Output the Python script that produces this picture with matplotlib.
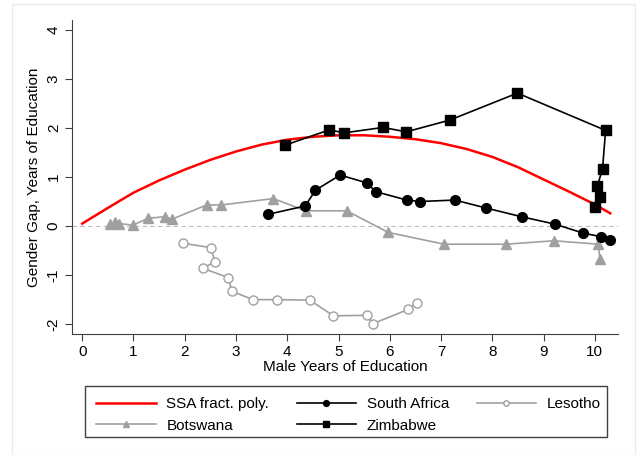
import matplotlib
matplotlib.use("Agg")
import matplotlib.pyplot as plt
from matplotlib.patches import Rectangle

plt.rcParams['font.family'] = ['Liberation Sans', 'DejaVu Sans']
plt.rcParams['axes.unicode_minus'] = False

# SSA fractional polynomial fit
ssa_x = [0, 0.5, 1, 1.5, 2, 2.5, 3, 3.5, 4, 4.5, 5, 5.5, 6, 6.5, 7, 7.5, 8, 8.5, 9, 9.5, 10, 10.3]
ssa_y = [0.05, 0.37, 0.68, 0.93, 1.15, 1.35, 1.52, 1.66, 1.76, 1.82, 1.85, 1.85, 1.82, 1.77, 1.69, 1.57, 1.41, 1.20, 0.95, 0.70, 0.44, 0.26]

sa_x = [3.63, 4.35, 4.55, 5.03, 5.55, 5.73, 6.33, 6.59, 7.27, 7.87, 8.57, 9.22, 9.76, 10.13, 10.29]
sa_y = [0.24, 0.41, 0.73, 1.04, 0.88, 0.70, 0.53, 0.50, 0.53, 0.37, 0.19, 0.04, -0.14, -0.22, -0.28]

les_x = [1.96, 2.51, 2.59, 2.35, 2.85, 2.92, 3.33, 3.79, 4.44, 4.90, 5.55, 5.67, 6.36, 6.54]
les_y = [-0.35, -0.44, -0.73, -0.86, -1.05, -1.33, -1.50, -1.50, -1.51, -1.83, -1.82, -1.99, -1.70, -1.56]

bot_x = [0.55, 0.64, 0.71, 0.99, 1.29, 1.62, 1.75, 2.43, 2.71, 3.73, 4.36, 5.16, 5.97, 7.06, 8.27, 9.20, 10.07, 10.10]
bot_y = [0.05, 0.09, 0.05, 0.02, 0.16, 0.19, 0.14, 0.43, 0.43, 0.56, 0.31, 0.31, -0.13, -0.37, -0.37, -0.30, -0.37, -0.68]

zim_x = [3.96, 4.82, 5.11, 5.87, 6.32, 7.17, 8.49, 10.21, 10.15, 10.05, 10.10, 10.00]
zim_y = [1.65, 1.96, 1.90, 2.01, 1.92, 2.16, 2.71, 1.95, 1.16, 0.82, 0.60, 0.39]

fig = plt.figure(figsize=(6.37, 4.55), dpi=100)
# faint outer frame and legend box
fig.patches.append(Rectangle((12 / 637, 0.0), 623 / 637, 451 / 455, transform=fig.transFigure,
                             fill=False, edgecolor='#e6ecec', linewidth=1.0))
fig.patches.append(Rectangle((85 / 637, 18 / 455), 522 / 637, 51 / 455, transform=fig.transFigure,
                             fill=False, edgecolor='#404040', linewidth=1.0))
ax = fig.add_axes([0.113, 0.266, 0.857, 0.690])

ax.axhline(0, color='#bbbbbb', linestyle=(0, (4, 3)), linewidth=0.8, zorder=1)

l_ssa, = ax.plot(ssa_x, ssa_y, color='#ff0000', linewidth=1.8, label='SSA fract. poly.', zorder=3)
l_bot, = ax.plot(bot_x, bot_y, color='#a0a0a0', linewidth=1.2, marker='^', markersize=7,
                 markerfacecolor='#a0a0a0', markeredgecolor='#a0a0a0', label='Botswana', zorder=2)
l_les, = ax.plot(les_x, les_y, color='#a0a0a0', linewidth=1.2, marker='o', markersize=6.5,
                 markerfacecolor='white', markeredgecolor='#a0a0a0', label='Lesotho', zorder=2)
l_sa, = ax.plot(sa_x, sa_y, color='black', linewidth=1.2, marker='o', markersize=7,
                label='South Africa', zorder=4)
l_zim, = ax.plot(zim_x, zim_y, color='black', linewidth=1.2, marker='s', markersize=7,
                 label='Zimbabwe', zorder=4)

ax.set_xlim(-0.2, 10.45)
ax.set_ylim(-2.2, 4.2)
ax.set_xticks(range(0, 11))
ax.set_yticks(range(-2, 5))
ax.spines['top'].set_visible(False)
ax.spines['right'].set_visible(False)
ax.spines['left'].set_color('#404040')
ax.spines['bottom'].set_color('#404040')
ax.tick_params(direction='out', length=5, color='#404040', labelsize=11, pad=3)
for lab in ax.get_yticklabels():
    lab.set_rotation(90)
    lab.set_va('center')
ax.set_xlabel('Male Years of Education', fontsize=11, labelpad=1)
ax.set_ylabel('Gender Gap, Years of Education', fontsize=11, labelpad=4)

leg = fig.legend([l_ssa, l_bot, l_sa, l_zim, l_les],
                 ['SSA fract. poly.', 'Botswana', 'South Africa', 'Zimbabwe', 'Lesotho'],
                 ncol=3, loc='upper left', bbox_to_anchor=(85 / 637, 69 / 455),
                 fontsize=11, frameon=False, borderaxespad=0, borderpad=0.72,
                 handlelength=3.9, handletextpad=0.7, markerscale=0.6,
                 columnspacing=1.8, labelspacing=0.5)

fig.savefig('out.png', dpi=100)
